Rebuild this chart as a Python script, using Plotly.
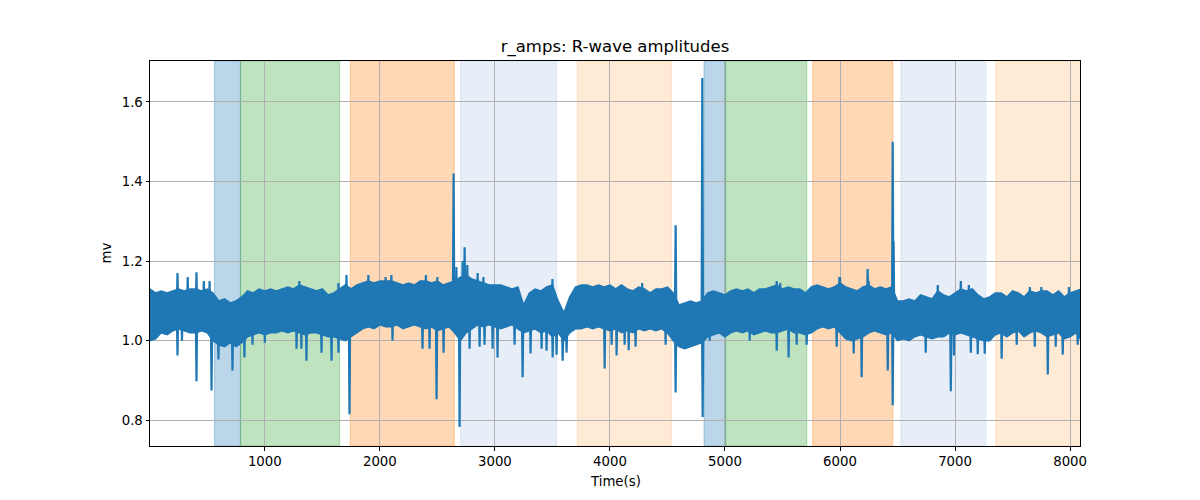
import plotly.graph_objects as go

# ---------------- data ----------------
# envelope of the R-wave amplitude band, every 50 s
t_env = list(range(0, 8101, 50))
upper = [
    1.13, 1.12, 1.125, 1.12, 1.125, 1.13, 1.125, 1.13, 1.13, 1.125,  # 0-450
    1.13, 1.12, 1.10, 1.105, 1.095, 1.10, 1.11, 1.125, 1.12, 1.13,   # 500-950
    1.125, 1.13, 1.125, 1.13, 1.135, 1.13, 1.14, 1.135, 1.13, 1.125, # 1000-1450
    1.13, 1.115, 1.12, 1.13, 1.14, 1.13, 1.14, 1.145, 1.15, 1.145,   # 1500-1950
    1.15, 1.15, 1.15, 1.145, 1.14, 1.145, 1.14, 1.15, 1.15, 1.145,   # 2000-2450
    1.15, 1.14, 1.145, 1.15, 1.16, 1.165, 1.155, 1.15, 1.145, 1.14,  # 2500-2950
    1.14, 1.14, 1.135, 1.13, 1.135, 1.09, 1.12, 1.13, 1.125, 1.135,  # 3000-3450
    1.14, 1.10, 1.07, 1.11, 1.135, 1.14, 1.14, 1.135, 1.14, 1.135,   # 3500-3950
    1.14, 1.13, 1.14, 1.13, 1.125, 1.135, 1.13, 1.12, 1.13, 1.13,    # 4000-4450
    1.135, 1.12, 1.09, 1.095, 1.10, 1.095, 1.10, 1.12, 1.125, 1.12,  # 4500-4950
    1.115, 1.125, 1.13, 1.125, 1.13, 1.12, 1.13, 1.13, 1.135, 1.14,  # 5000-5450
    1.13, 1.135, 1.13, 1.13, 1.12, 1.135, 1.14, 1.135, 1.13, 1.135,  # 5500-5950
    1.145, 1.135, 1.13, 1.125, 1.135, 1.14, 1.13, 1.135, 1.13, 1.135,# 6000-6450
    1.10, 1.10, 1.105, 1.10, 1.115, 1.11, 1.105, 1.125, 1.115, 1.11, # 6500-6950
    1.12, 1.13, 1.125, 1.13, 1.115, 1.105, 1.11, 1.12, 1.12, 1.11,   # 7000-7450
    1.125, 1.12, 1.11, 1.125, 1.12, 1.125, 1.125, 1.115, 1.125, 1.11,# 7500-7950
    1.12, 1.125, 1.13,                                               # 8000-8100
]
lower = [
    1.00, 1.005, 1.02, 1.015, 1.025, 1.03, 1.025, 1.02, 1.02, 1.025,   # 0-450
    1.02, 1.00, 0.99, 0.985, 0.995, 0.985, 0.995, 1.01, 1.015, 1.02,   # 500-950
    1.015, 1.02, 1.02, 1.025, 1.02, 1.025, 1.02, 1.015, 1.02, 1.02,    # 1000-1450
    1.015, 1.01, 1.01, 1.005, 1.00, 1.01, 1.02, 1.03, 1.035, 1.03,     # 1500-1950
    1.04, 1.035, 1.035, 1.04, 1.03, 1.035, 1.04, 1.035, 1.03, 1.035,   # 2000-2450
    1.025, 1.03, 1.035, 1.02, 1.00, 1.02, 1.03, 1.04, 1.035, 1.04,     # 2500-2950
    1.035, 1.03, 1.035, 1.04, 1.03, 1.02, 1.025, 1.03, 1.02, 1.025,    # 3000-3450
    1.01, 1.02, 1.00, 1.02, 1.03, 1.03, 1.035, 1.03, 1.035, 1.03,      # 3500-3950
    1.025, 1.03, 1.02, 1.025, 1.02, 1.03, 1.025, 1.03, 1.025, 1.03,    # 4000-4450
    1.02, 1.00, 0.985, 0.98, 0.985, 0.99, 0.995, 1.01, 1.015, 1.02,    # 4500-4950
    1.01, 1.02, 1.025, 1.02, 1.025, 1.015, 1.02, 1.025, 1.02, 1.02,    # 5000-5450
    1.025, 1.03, 1.02, 1.02, 1.015, 1.02, 1.03, 1.035, 1.03, 1.035,    # 5500-5950
    1.02, 1.005, 1.00, 1.005, 1.01, 1.02, 1.025, 1.02, 1.015, 1.02,    # 6000-6450
    1.00, 1.005, 1.00, 1.01, 1.015, 1.01, 1.005, 1.01, 1.01, 1.02,     # 6500-6950
    1.015, 1.02, 1.015, 1.01, 1.005, 1.00, 1.00, 1.015, 1.02, 1.01,    # 7000-7450
    1.02, 1.025, 1.01, 1.02, 1.025, 1.02, 1.01, 1.015, 1.02, 1.005,    # 7500-7950
    1.01, 1.02, 1.00,                                                  # 8000-8100
]

# isolated beats that leave the band (time s, amplitude mv)
spike_t = [241, 280, 406, 537, 597, 719, 823, 893, 1000, 1276, 1318, 1362,
           1493, 1580, 1640, 1710, 1736, 2110, 2371, 2432, 2493, 2554, 2641,
           2665, 2693, 2737, 2780, 2867, 2910, 2980, 3023, 3171, 3241, 3310,
           3406, 3449, 3502, 3536, 3589, 3623, 3954, 4015, 4058, 4128, 4163,
           4223, 4484, 4571, 4571, 4803, 4806, 4867, 5215, 5450, 5553, 5623,
           5710, 5971, 5995, 6119, 6188, 6240, 6415, 6458, 6458, 6465, 6745,
           6963, 6990, 7137, 7197, 7258, 7405, 7536, 7693, 7806, 7875, 7936,
           8066,
           # narrow upward excursions on the top edge of the band
           241, 330, 406, 470, 520, 1300, 1640, 1900, 2050, 2100, 2400, 2500,
           2720, 2760, 2850, 2900, 3500, 4280, 5450, 5480, 6000, 6250, 6850,
           7050, 7120, 7650, 7750, 7990]
spike_v = [0.963, 1.00, 0.898, 0.875, 0.953, 0.925, 0.958, 0.99, 0.995, 0.98, 0.98, 0.95,
           0.97, 0.95, 0.97, 1.165, 0.815, 1.00, 0.98, 0.98, 0.853, 0.97, 1.42,
           1.185, 0.783, 1.235, 0.98, 0.985, 0.99, 0.98, 0.958, 0.99, 0.908, 0.968,
           0.98, 0.975, 0.958, 0.965, 0.95, 0.97, 0.93, 0.99, 0.963, 0.99, 0.976,
           0.985, 0.99, 1.29, 0.87, 1.66, 0.808, 1.00, 1.00, 0.975, 0.958, 0.99,
           0.99, 0.985, 1.16, 0.968, 0.908, 1.18, 0.925, 1.50, 0.838, 1.25, 0.97,
           0.873, 0.963, 0.97, 0.966, 0.967, 0.955, 0.99, 0.985, 0.915, 0.985, 0.965,
           0.99,
           1.17, 1.16, 1.172, 1.15, 1.15, 1.15, 1.145, 1.165, 1.16, 1.165, 1.165, 1.16,
           1.20, 1.19, 1.17, 1.16, 1.155, 1.145, 1.15, 1.145, 1.16, 1.15, 1.14,
           1.15, 1.14, 1.135, 1.135, 1.135]

# shaded epochs (start s, end s, colour)
span_start = [563, 789, 1743, 2702, 3717, 4818, 5005, 5762, 6530, 7354]
span_end = [789, 1650, 2647, 3537, 4534, 5005, 5710, 6458, 7266, 8090]
span_color = ["31,119,180", "44,160,44", "255,127,14", "174,199,232", "255,187,120",
              "31,119,180", "44,160,44", "255,127,14", "174,199,232", "255,187,120"]

x_ticks = [1000, 2000, 3000, 4000, 5000, 6000, 7000, 8000]
y_ticks = [0.8, 1.0, 1.2, 1.4, 1.6]

BLUE = "#1f77b4"
FONT = "DejaVu Sans"

fig = go.Figure()

# band envelope
fig.add_trace(go.Scatter(x=t_env, y=upper, mode="lines",
                         line=dict(color=BLUE, width=1.5), hoverinfo="skip",
                         showlegend=False))
fig.add_trace(go.Scatter(x=t_env, y=lower, mode="lines", fill="tonexty",
                         fillcolor=BLUE, line=dict(color=BLUE, width=1.5),
                         hoverinfo="skip", showlegend=False))

# spikes: from the band middle (nearest envelope bin) to the spike value
sx, sy = [], []
for t, v in zip(spike_t, spike_v):
    i = min(range(len(t_env)), key=lambda k: abs(t_env[k] - t))
    base = (upper[i] + lower[i]) / 2
    sx += [t - 6, t, t + 6, None]
    sy += [base, v, base, None]
fig.add_trace(go.Scatter(x=sx, y=sy, mode="lines",
                         line=dict(color=BLUE, width=2.2), hoverinfo="skip",
                         showlegend=False))

for s, e, c in zip(span_start, span_end, span_color):
    fig.add_shape(type="rect", xref="x", yref="paper", x0=s, x1=e, y0=0, y1=1,
                  fillcolor=f"rgba({c},0.3)", line=dict(color=f"rgba({c},0.3)", width=1.2),
                  layer="below")

axis_common = dict(showline=True, linecolor="black", linewidth=1, mirror=True,
                   ticks="outside", ticklen=3.5, tickwidth=1, tickcolor="black",
                   showgrid=True, gridcolor="#b0b0b0", gridwidth=0.8, zeroline=False,
                   tickfont=dict(family=FONT, size=13.3, color="black"))

fig.update_xaxes(range=[2, 8086], tickvals=x_ticks,
                 ticktext=[str(v) for v in x_ticks], **axis_common)
fig.update_yaxes(range=[0.7354, 1.703], tickvals=y_ticks,
                 ticktext=[f"{v:.1f}" for v in y_ticks], **axis_common)

fig.update_layout(
    width=1200, height=500,
    margin=dict(l=150, r=120, t=61, b=54, pad=0),
    plot_bgcolor="white", paper_bgcolor="white",
    title=dict(text="r_amps: R-wave amplitudes", x=615 / 1200, xanchor="center",
               xref="container", yref="container", y=(500 - 46) / 500,
               yanchor="middle", font=dict(family=FONT, size=16.5, color="black")),
)
fig.add_annotation(text="Time(s)", xref="paper", yref="paper", x=0.5, y=-(481 - 445.7) / 385,
                   showarrow=False, xanchor="center", yanchor="middle",
                   font=dict(family=FONT, size=13.3, color="black"))
fig.add_annotation(text="mv", xref="paper", yref="paper", x=-(150 - 106) / 930, y=0.5,
                   showarrow=False, xanchor="center", yanchor="middle", textangle=-90,
                   font=dict(family=FONT, size=13.3, color="black"))

fig.write_html("out.html")
